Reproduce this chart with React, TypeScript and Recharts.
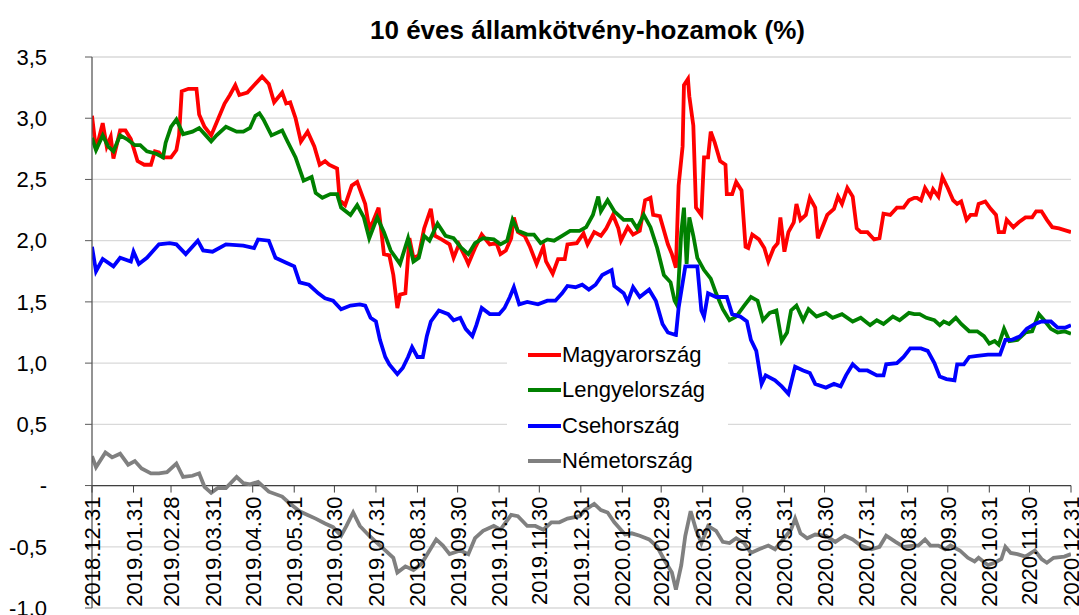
import React from 'react';
import { LineChart, Line, XAxis, YAxis, CartesianGrid, ReferenceLine, Legend } from 'recharts';

// napok 2018.12.31-től számolva, hónapvégi tengelyfeliratok
const tickDays = [0, 31, 59, 90, 120, 151, 181, 212, 243, 273, 304, 334, 365, 396, 425, 456, 486, 517, 547, 578, 609, 639, 670, 700, 731];
const tickLabels = [
  '2018.12.31', '2019.01.31', '2019.02.28', '2019.03.31', '2019.04.30', '2019.05.31', '2019.06.30',
  '2019.07.31', '2019.08.31', '2019.09.30', '2019.10.31', '2019.11.30', '2019.12.31', '2020.01.31',
  '2020.02.29', '2020.03.31', '2020.04.30', '2020.05.31', '2020.06.30', '2020.07.31', '2020.08.31',
  '2020.09.30', '2020.10.31', '2020.11.30', '2020.12.31',
];
const yTicks = [-1, -0.5, 0, 0.5, 1, 1.5, 2, 2.5, 3, 3.5];

// [nap, hozam %]
const magyarorszag: [number, number][] = [
  [0, 3.02], [3, 2.74], [8, 2.96], [11, 2.77], [14, 2.85], [16, 2.67], [21, 2.9], [25, 2.9], [29, 2.83], [34, 2.65],
  [39, 2.62], [44, 2.62], [47, 2.73], [50, 2.72], [53, 2.68], [59, 2.68], [63, 2.74], [65, 2.86], [67, 3.22], [72, 3.24],
  [78, 3.24], [80, 3.03], [84, 2.93], [89, 2.86], [94, 2.99], [99, 3.12], [103, 3.19], [107, 3.27], [110, 3.19], [116, 3.21],
  [121, 3.27], [127, 3.34], [132, 3.28], [136, 3.13], [142, 3.21], [145, 3.12], [148, 3.13], [152, 3.0], [156, 2.81], [161, 2.89],
  [166, 2.77], [170, 2.62], [174, 2.65], [177, 2.62], [183, 2.59], [185, 2.33], [189, 2.29], [194, 2.45], [198, 2.48], [204, 2.3],
  [207, 2.1], [210, 2.16], [214, 2.27], [218, 1.89], [222, 1.88], [225, 1.72], [228, 1.45], [230, 1.56], [234, 1.57], [237, 2.02],
  [240, 1.86], [244, 1.88], [248, 2.1], [253, 2.26], [256, 2.04], [261, 2.01], [267, 1.97], [270, 1.86], [274, 1.97], [279, 1.86],
  [281, 1.81], [286, 1.94], [291, 2.05], [297, 1.97], [302, 1.98], [305, 1.89], [309, 1.92], [313, 2.02], [315, 2.19], [318, 2.07],
  [323, 2.04], [327, 1.95], [332, 1.81], [337, 1.95], [339, 1.83], [344, 1.73], [348, 1.85], [353, 1.85], [355, 1.97], [362, 1.98],
  [367, 2.06], [370, 1.97], [375, 2.07], [380, 2.04], [384, 2.1], [389, 2.21], [393, 2.1], [395, 2.0], [400, 2.11], [404, 2.05],
  [409, 2.08], [413, 2.33], [417, 2.35], [419, 2.21], [424, 2.2], [430, 1.97], [433, 1.89], [436, 1.78], [438, 2.45], [441, 2.77],
  [442, 3.27], [445, 3.32], [446, 3.18], [449, 2.94], [451, 2.27], [455, 2.21], [457, 2.68], [460, 2.68], [462, 2.89], [465, 2.8],
  [469, 2.65], [473, 2.62], [474, 2.38], [478, 2.38], [481, 2.48], [485, 2.41], [488, 1.95], [490, 1.94], [493, 2.05], [498, 2.01],
  [502, 1.94], [505, 1.83], [509, 1.94], [512, 1.98], [514, 2.19], [517, 1.91], [520, 2.07], [524, 2.15], [526, 2.3], [529, 2.17],
  [533, 2.21], [536, 2.35], [540, 2.27], [542, 2.02], [545, 2.1], [549, 2.21], [554, 2.26], [557, 2.36], [560, 2.3], [564, 2.43],
  [568, 2.36], [571, 2.1], [574, 2.07], [579, 2.07], [584, 2.01], [588, 2.02], [591, 2.22], [596, 2.21], [601, 2.27], [606, 2.27],
  [610, 2.33], [614, 2.35], [616, 2.35], [619, 2.33], [622, 2.43], [626, 2.36], [628, 2.42], [632, 2.36], [635, 2.52], [639, 2.43],
  [643, 2.33], [646, 2.3], [649, 2.32], [653, 2.17], [656, 2.21], [660, 2.21], [662, 2.3], [667, 2.32], [671, 2.26], [675, 2.21],
  [677, 2.07], [681, 2.07], [683, 2.17], [688, 2.11], [692, 2.15], [697, 2.19], [702, 2.19], [705, 2.24], [709, 2.24], [713, 2.17],
  [717, 2.11], [722, 2.1], [728, 2.08], [731, 2.07],
];

const lengyelorszag: [number, number][] = [
  [0, 2.84], [3, 2.74], [8, 2.86], [12, 2.77], [16, 2.73], [21, 2.86], [26, 2.83], [32, 2.78], [36, 2.78], [41, 2.73],
  [48, 2.71], [53, 2.68], [55, 2.8], [59, 2.93], [63, 2.99], [68, 2.87], [75, 2.89], [80, 2.92], [85, 2.86], [89, 2.81],
  [93, 2.86], [100, 2.93], [108, 2.89], [113, 2.89], [118, 2.92], [122, 3.02], [125, 3.04], [128, 2.99], [134, 2.86], [142, 2.9],
  [146, 2.81], [152, 2.68], [158, 2.49], [164, 2.52], [167, 2.39], [172, 2.35], [178, 2.38], [183, 2.38], [186, 2.27], [193, 2.21],
  [198, 2.29], [203, 2.19], [207, 2.02], [213, 2.19], [218, 2.07], [223, 1.92], [230, 1.81], [236, 2.02], [240, 1.83], [244, 1.86],
  [248, 2.04], [252, 2.0], [258, 2.14], [264, 2.04], [270, 2.02], [275, 1.95], [281, 1.89], [286, 1.98], [292, 2.02], [300, 2.01],
  [305, 1.97], [310, 2.0], [314, 2.17], [318, 2.08], [325, 2.05], [330, 2.05], [335, 1.98], [340, 2.01], [345, 2.0], [351, 2.04],
  [357, 2.08], [364, 2.08], [369, 2.11], [374, 2.21], [378, 2.36], [380, 2.24], [385, 2.33], [390, 2.24], [397, 2.17], [403, 2.17],
  [407, 2.1], [412, 2.21], [417, 2.11], [422, 1.94], [427, 1.72], [432, 1.66], [435, 1.51], [437, 1.47], [440, 2.07], [442, 2.27],
  [444, 1.81], [446, 2.19], [449, 2.04], [452, 1.86], [457, 1.76], [462, 1.69], [466, 1.57], [471, 1.44], [476, 1.35], [481, 1.38],
  [487, 1.47], [492, 1.54], [497, 1.51], [501, 1.35], [506, 1.41], [511, 1.43], [515, 1.18], [519, 1.25], [522, 1.43], [526, 1.47],
  [531, 1.35], [535, 1.44], [541, 1.38], [548, 1.41], [553, 1.37], [560, 1.4], [568, 1.34], [574, 1.37], [581, 1.31], [586, 1.35],
  [591, 1.32], [598, 1.38], [603, 1.35], [610, 1.41], [614, 1.4], [618, 1.4], [623, 1.37], [629, 1.35], [633, 1.31], [636, 1.34],
  [640, 1.32], [645, 1.37], [649, 1.32], [655, 1.26], [661, 1.26], [666, 1.22], [670, 1.16], [674, 1.18], [677, 1.15], [681, 1.28],
  [685, 1.18], [691, 1.19], [697, 1.25], [702, 1.26], [707, 1.4], [711, 1.35], [716, 1.28], [721, 1.25], [726, 1.26], [731, 1.24],
];

const csehorszag: [number, number][] = [
  [0, 1.95], [3, 1.75], [8, 1.85], [16, 1.79], [21, 1.86], [29, 1.83], [31, 1.91], [35, 1.81], [41, 1.86], [50, 1.97],
  [58, 1.98], [63, 1.97], [70, 1.89], [79, 2.0], [83, 1.92], [90, 1.91], [100, 1.97], [113, 1.96], [121, 1.94], [124, 2.01],
  [132, 2.0], [137, 1.86], [145, 1.82], [151, 1.79], [155, 1.66], [162, 1.64], [169, 1.57], [174, 1.53], [180, 1.51], [186, 1.44],
  [193, 1.47], [200, 1.48], [204, 1.47], [208, 1.37], [212, 1.34], [215, 1.19], [219, 1.05], [222, 0.99], [228, 0.91], [232, 0.96],
  [236, 1.05], [239, 1.13], [243, 1.05], [247, 1.05], [250, 1.22], [253, 1.34], [259, 1.43], [266, 1.4], [270, 1.35], [275, 1.37],
  [279, 1.28], [284, 1.22], [287, 1.31], [291, 1.45], [297, 1.4], [304, 1.4], [308, 1.45], [312, 1.54], [315, 1.62], [319, 1.48],
  [325, 1.5], [333, 1.48], [340, 1.51], [346, 1.51], [351, 1.57], [355, 1.63], [361, 1.62], [366, 1.64], [371, 1.6], [376, 1.64],
  [381, 1.72], [388, 1.76], [390, 1.63], [397, 1.57], [400, 1.5], [404, 1.62], [409, 1.54], [416, 1.6], [421, 1.51], [426, 1.32],
  [430, 1.25], [436, 1.23], [438, 1.45], [443, 1.79], [452, 1.79], [455, 1.43], [457, 1.38], [460, 1.57], [466, 1.54], [474, 1.54],
  [478, 1.4], [484, 1.38], [489, 1.34], [492, 1.19], [496, 1.1], [500, 0.83], [503, 0.9], [510, 0.86], [515, 0.81], [520, 0.75],
  [525, 0.97], [531, 0.94], [536, 0.92], [540, 0.83], [548, 0.8], [554, 0.83], [559, 0.81], [563, 0.9], [568, 0.99], [573, 0.94],
  [579, 0.94], [586, 0.9], [591, 0.9], [593, 0.99], [601, 1.0], [606, 1.05], [611, 1.12], [619, 1.12], [624, 1.1], [629, 1.0],
  [633, 0.89], [638, 0.87], [644, 0.86], [646, 0.99], [651, 0.99], [655, 1.05], [661, 1.06], [669, 1.07], [678, 1.07], [682, 1.19],
  [687, 1.19], [693, 1.22], [698, 1.28], [704, 1.32], [709, 1.34], [716, 1.34], [721, 1.29], [727, 1.29], [731, 1.31],
];

const nemetorszag: [number, number][] = [
  [0, 0.24], [3, 0.15], [10, 0.27], [15, 0.23], [21, 0.26], [27, 0.17], [32, 0.2], [37, 0.14], [44, 0.1], [50, 0.1],
  [56, 0.11], [63, 0.18], [68, 0.07], [75, 0.08], [80, 0.1], [84, -0.01], [89, -0.06], [94, -0.02], [100, -0.02], [108, 0.07],
  [113, 0.02], [118, 0.01], [124, 0.03], [132, -0.05], [142, -0.09], [147, -0.14], [155, -0.21], [161, -0.24], [167, -0.27], [174, -0.31],
  [180, -0.34], [186, -0.41], [190, -0.33], [195, -0.22], [200, -0.33], [207, -0.41], [213, -0.47], [219, -0.53], [225, -0.59], [228, -0.71],
  [234, -0.66], [240, -0.69], [246, -0.64], [252, -0.53], [257, -0.44], [262, -0.49], [267, -0.56], [275, -0.53], [281, -0.56], [286, -0.43],
  [292, -0.37], [300, -0.33], [305, -0.36], [313, -0.24], [318, -0.25], [325, -0.33], [331, -0.33], [337, -0.36], [343, -0.3], [349, -0.3],
  [355, -0.27], [364, -0.25], [368, -0.2], [375, -0.15], [380, -0.2], [385, -0.22], [390, -0.3], [398, -0.4], [403, -0.39], [409, -0.41],
  [416, -0.44], [422, -0.5], [428, -0.62], [433, -0.71], [436, -0.85], [440, -0.65], [443, -0.41], [447, -0.21], [451, -0.36], [455, -0.47],
  [460, -0.33], [466, -0.37], [471, -0.46], [476, -0.47], [481, -0.43], [487, -0.47], [492, -0.55], [498, -0.52], [505, -0.49], [510, -0.52],
  [516, -0.44], [522, -0.36], [525, -0.27], [529, -0.39], [534, -0.43], [540, -0.4], [548, -0.41], [555, -0.46], [562, -0.41], [568, -0.44],
  [574, -0.49], [582, -0.52], [588, -0.5], [593, -0.41], [600, -0.46], [606, -0.5], [614, -0.49], [617, -0.49], [622, -0.44], [626, -0.49],
  [632, -0.49], [637, -0.52], [641, -0.49], [648, -0.53], [654, -0.59], [659, -0.62], [662, -0.59], [669, -0.65], [674, -0.63], [679, -0.6],
  [682, -0.5], [686, -0.55], [691, -0.56], [697, -0.58], [704, -0.53], [709, -0.6], [713, -0.63], [718, -0.59], [726, -0.58], [731, -0.56],
];

const series = [
  { name: 'Magyarország', color: '#ff0000', points: magyarorszag },
  { name: 'Lengyelország', color: '#008000', points: lengyelorszag },
  { name: 'Csehország', color: '#0000ff', points: csehorszag },
  { name: 'Németország', color: '#808080', points: nemetorszag },
];

const W = 1079;
const H = 615;
const M = { top: 57, right: 8, bottom: 6, left: 0 };
const X_AXIS_H = 1;
const Y_MIN = -1;
const Y_MAX = 3.5;
const plotBottom = H - M.bottom - X_AXIS_H;
const ZERO_Y = M.top + ((plotBottom - M.top) * Y_MAX) / (Y_MAX - Y_MIN);
const FONT = '"Liberation Sans", Arial, sans-serif';

const fmtY = (v: number) => (v === 0 ? '-' : v.toFixed(1).replace('.', ','));

const XTick = (props: any) => {
  const { x, payload } = props;
  const idx = tickDays.indexOf(payload.value);
  return (
    <g>
      <line x1={x} x2={x} y1={ZERO_Y} y2={ZERO_Y + 7} stroke="#404040" strokeWidth={1} />
      <text
        transform={`translate(${x + 8},${ZERO_Y + 11}) rotate(-90)`}
        textAnchor="end"
        fontSize={22}
        fontFamily={FONT}
        fill="#000"
      >
        {tickLabels[idx]}
      </text>
    </g>
  );
};

const LegendBox = () => (
  <div style={{ background: '#fff', width: 221, height: 141, fontFamily: FONT, fontSize: 22, color: '#000' }}>
    {series.map(s => (
      <div key={s.name} style={{ height: 35.5, display: 'flex', alignItems: 'center' }}>
        <div style={{ marginLeft: 21, width: 33, height: 4, background: s.color }} />
        <span style={{ marginLeft: 1 }}>{s.name}</span>
      </div>
    ))}
  </div>
);

export default function App() {
  return (
    <div style={{ position: 'relative', width: W, height: H, background: '#fff' }}>
      <style>{'body{margin:0}'}</style>
      <div
        style={{
          position: 'absolute', left: 98, top: 15, width: 979, textAlign: 'center',
          fontFamily: FONT, fontWeight: 'bold', fontSize: 26, lineHeight: '30px', color: '#000',
        }}
      >
        10 éves államkötvény-hozamok (%)
      </div>
      <LineChart width={W} height={H} margin={M}>
        <CartesianGrid vertical={false} stroke="#d9d9d9" strokeWidth={1.3} />
        <XAxis
          type="number"
          dataKey="day"
          domain={[0, 731]}
          ticks={tickDays}
          interval={0}
          height={X_AXIS_H}
          axisLine={false}
          tickLine={false}
          tick={<XTick />}
          allowDataOverflow
        />
        <YAxis
          type="number"
          domain={[Y_MIN, Y_MAX]}
          ticks={yTicks}
          interval={0}
          width={92}
          tickSize={7}
          tickMargin={38}
          tickFormatter={fmtY}
          axisLine={{ stroke: '#595959', strokeWidth: 1.3 }}
          tickLine={{ stroke: '#595959' }}
          tick={{ fill: '#000', fontSize: 22, fontFamily: FONT }}
        />
        <ReferenceLine y={0} stroke="#404040" strokeWidth={1.3} />
        <Legend
          layout="vertical"
          align="center"
          verticalAlign="middle"
          wrapperStyle={{ position: 'absolute', left: 507, top: 337, width: 221 }}
          content={<LegendBox />}
        />
        {series.map(s => (
          <Line
            key={s.name}
            name={s.name}
            data={s.points.map(([day, value]) => ({ day, value }))}
            dataKey="value"
            stroke={s.color}
            strokeWidth={3.8}
            dot={false}
            type="linear"
            isAnimationActive={false}
          />
        ))}
      </LineChart>
    </div>
  );
}
